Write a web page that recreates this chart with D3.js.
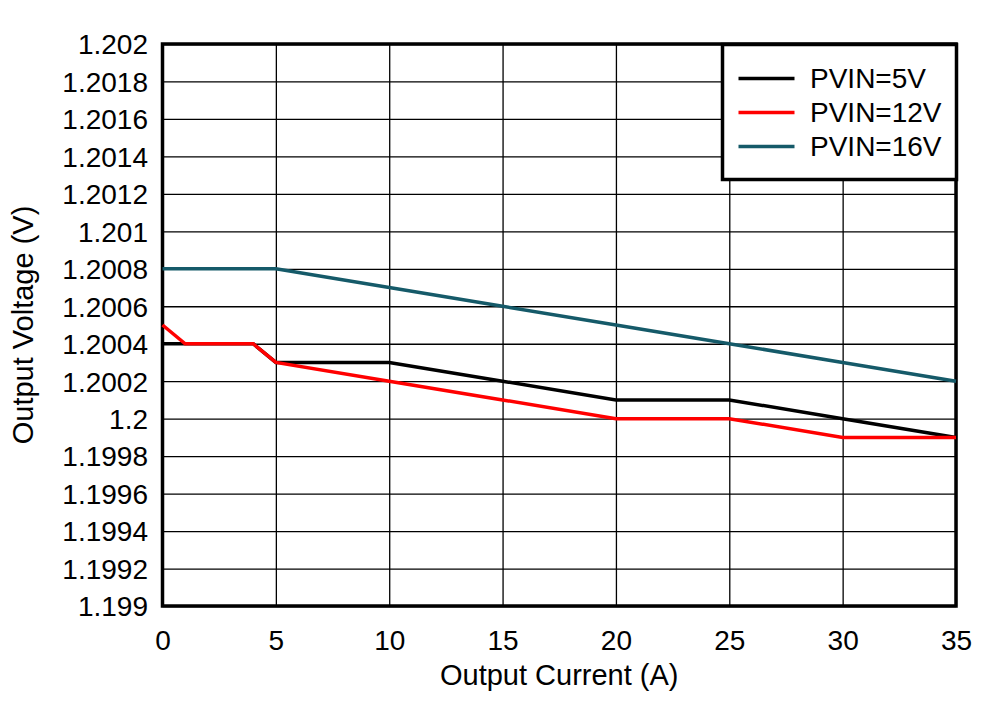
<!DOCTYPE html>
<html>
<head>
<meta charset="utf-8">
<script src="https://cdn.jsdelivr.net/npm/d3@7"></script>
<style>
  body { margin: 0; background: #fff; }
  text { font-family: "Liberation Sans", Arial, sans-serif; fill: #000; }
</style>
</head>
<body>
<div id="chart"></div>
<script>
// 讀圖估計的數值
const current = [0, 1, 2, 3, 4, 5, 10, 15, 20, 25, 30, 35];
const pvin5 = [1.2004, 1.2004, 1.2004, 1.2004, 1.2004, 1.2003, 1.2003, 1.2002, 1.2001, 1.2001, 1.2000, 1.1999];
const pvin12 = [1.2005, 1.2004, 1.2004, 1.2004, 1.2004, 1.2003, 1.2002, 1.2001, 1.2000, 1.2000, 1.1999, 1.1999];
const pvin16 = [1.2008, 1.2008, 1.2008, 1.2008, 1.2008, 1.2008, 1.2007, 1.2006, 1.2005, 1.2004, 1.2003, 1.2002];
const seriesNames = ['PVIN=5V', 'PVIN=12V', 'PVIN=16V'];
const seriesColors = ['#000000', '#ff0000', '#155a69'];
const xTicks = [0, 5, 10, 15, 20, 25, 30, 35];
const yTicks = [1.199, 1.1992, 1.1994, 1.1996, 1.1998, 1.2, 1.2002, 1.2004, 1.2006, 1.2008,
                1.201, 1.2012, 1.2014, 1.2016, 1.2018, 1.202];

const width = 996, height = 701;
const margin = { top: 44, right: 40, bottom: 95, left: 162.5 };
const w = width - margin.left - margin.right;
const h = height - margin.top - margin.bottom;

const svg = d3.select('#chart').append('svg')
  .attr('width', width).attr('height', height);
const g = svg.append('g').attr('transform', `translate(${margin.left},${margin.top})`);

const x = d3.scaleLinear().domain([0, 35]).range([0, w]);
const y = d3.scaleLinear().domain([1.199, 1.202]).range([h, 0]);

// 格線
const xAxis = d3.axisBottom(x).tickValues(xTicks).tickSize(-h).tickFormat(d3.format('d'));
const xg = g.append('g').attr('transform', `translate(0,${h})`).call(xAxis);
const yAxis = d3.axisLeft(y).tickValues(yTicks).tickSize(-w).tickFormat(d3.format('.4~f'));
const yg = g.append('g').call(yAxis);
[xg, yg].forEach(a => {
  a.select('.domain').remove();
  a.selectAll('line').attr('stroke', '#000').attr('stroke-width', 1.3);
  a.selectAll('text').style('font-size', '28px');
});
xg.selectAll('text').attr('dy', '0').attr('y', 43.5);
yg.selectAll('text').attr('x', -14.5).attr('dy', '0.35em');

// 外框
g.append('rect').attr('x', 0).attr('y', 0).attr('width', w).attr('height', h)
  .attr('fill', 'none').attr('stroke', '#000').attr('stroke-width', 3.5);

// 曲線
const allSeries = [pvin5, pvin12, pvin16];
const line = d3.line().x((d, i) => x(current[i])).y(d => y(d));
allSeries.forEach((s, i) => {
  g.append('path').datum(s).attr('d', line)
    .attr('fill', 'none').attr('stroke', seriesColors[i]).attr('stroke-width', 3.5)
    .attr('stroke-linejoin', 'miter');
});

// 圖例
const lg = svg.append('g').attr('transform', 'translate(722.5,44.5)');
lg.append('rect').attr('width', 234).attr('height', 135)
  .attr('fill', '#fff').attr('stroke', '#000').attr('stroke-width', 3.5);
seriesNames.forEach((n, i) => {
  const yy = 34 + i * 34;
  lg.append('line').attr('x1', 16).attr('x2', 72).attr('y1', yy).attr('y2', yy)
    .attr('stroke', seriesColors[i]).attr('stroke-width', 3.5);
  lg.append('text').attr('x', 87.5).attr('y', yy).attr('dy', '0.35em')
    .style('font-size', '28px').text(n);
});

// 軸標題
svg.append('text').attr('x', margin.left + w / 2).attr('y', 685)
  .attr('text-anchor', 'middle').style('font-size', '29px').text('Output Current (A)');
svg.append('text').attr('transform', `translate(33,${margin.top + h / 2}) rotate(-90)`)
  .attr('text-anchor', 'middle').style('font-size', '29px').text('Output Voltage (V)');
</script>
</body>
</html>
